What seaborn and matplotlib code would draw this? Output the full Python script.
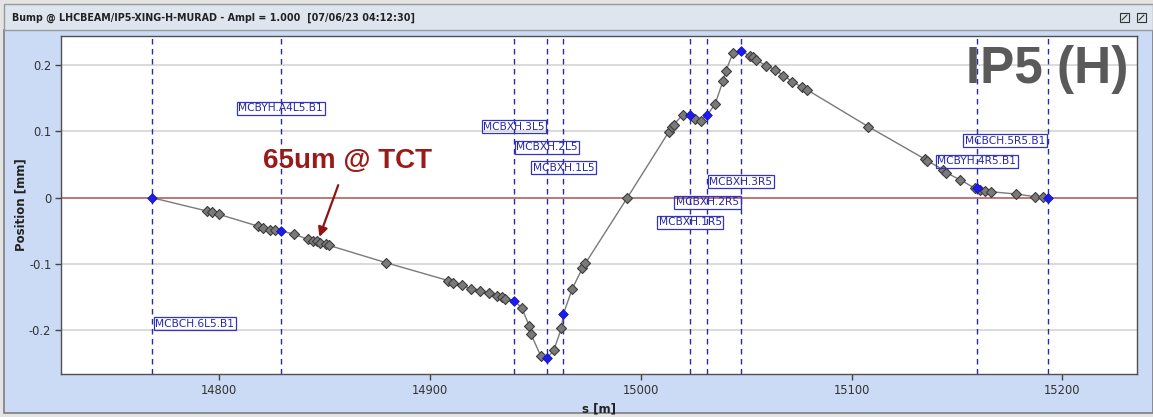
import numpy as np
import pandas as pd
import matplotlib
matplotlib.use("Agg")
import matplotlib.pyplot as plt
import seaborn as sns
from matplotlib.patches import Rectangle
from matplotlib.lines import Line2D

# ---------------------------------------------------------------- data
corrector_names = ["MCBCH.6L5.B1", "MCBYH.A4L5.B1", "MCBXH.3L5", "MCBXH.2L5",
                   "MCBXH.1L5", "MCBXH.1R5", "MCBXH.2R5", "MCBXH.3R5",
                   "MCBYH.4R5.B1", "MCBCH.5R5.B1"]
corrector_s = [14768.1, 14829.1, 14939.8, 14955.5, 14963.3,
               15023.5, 15031.6, 15047.4, 15159.4, 15193.3]
corrector_pos = [0.000, -0.050, -0.155, -0.242, -0.175,
                 0.124, 0.125, 0.221, 0.014, 0.000]

monitor_s = [14794.0, 14796.7, 14799.7, 14818.5, 14820.9, 14824.1, 14826.4,
             14835.6, 14842.2, 14844.6, 14846.2, 14847.8, 14850.6, 14852.2,
             14879.1, 14908.7, 14911.1, 14915.0, 14919.3, 14923.7, 14927.8,
             14931.9, 14934.0, 14935.6, 14943.5, 14947.0, 14947.9, 14952.6,
             14958.7, 14962.3, 14967.5, 14972.3, 14973.7, 14993.6, 15013.2,
             15014.9, 15015.5, 15019.9, 15025.6, 15028.4, 15035.2, 15039.0,
             15040.3, 15043.7, 15051.8, 15053.1, 15054.7, 15059.4, 15063.7,
             15067.6, 15071.9, 15076.3, 15078.7, 15108.0, 15134.9, 15135.7,
             15143.5, 15144.7, 15151.5, 15158.6, 15161.0, 15163.3, 15166.0,
             15178.0, 15187.1, 15190.7]
monitor_pos = [-0.020, -0.022, -0.025, -0.043, -0.045, -0.048, -0.049,
               -0.055, -0.063, -0.065, -0.066, -0.068, -0.070, -0.072,
               -0.098, -0.125, -0.128, -0.132, -0.137, -0.140, -0.144,
               -0.148, -0.149, -0.152, -0.166, -0.193, -0.206, -0.239,
               -0.230, -0.197, -0.137, -0.106, -0.099, 0.000, 0.099,
               0.107, 0.110, 0.125, 0.119, 0.116, 0.141, 0.176,
               0.191, 0.218, 0.214, 0.212, 0.208, 0.199, 0.193,
               0.184, 0.175, 0.167, 0.163, 0.107, 0.058, 0.056,
               0.042, 0.038, 0.027, 0.014, 0.011, 0.0095, 0.009,
               0.0056, 0.0015, 0.0015]

tct_s = 14846.8
tct_pos = -0.065
tct_label = "65um @ TCT"

x_ticks = [14800, 14900, 15000, 15100, 15200]
x_tick_labels = ["14800", "14900", "15000", "15100", "15200"]
y_ticks = [-0.2, -0.1, 0.0, 0.1, 0.2]
y_tick_labels = ["-0.2", "-0.1", "0", "0.1", "0.2"]

window_title = "Bump @ LHCBEAM/IP5-XING-H-MURAD - Ampl = 1.000  [07/06/23 04:12:30]"
plane_label = "IP5 (H)"

# ---------------------------------------------------------------- style
sns.set_theme(style="white")
plt.rcParams["font.family"] = ["DejaVu Sans"]
plt.rcParams["axes.unicode_minus"] = False

W, H = 1153, 417
fig = plt.figure(figsize=(W / 100, H / 100), dpi=100, facecolor="#e4e4e4")


def px_rect(x0, y0, x1, y1, **kw):
    """Rectangle given in pixel coordinates from the top-left corner."""
    return Rectangle((x0 / W, 1 - y1 / H), (x1 - x0) / W, (y1 - y0) / H,
                     transform=fig.transFigure, **kw)


# window chrome: panel and title bar
fig.patches.append(px_rect(4, 30, W, 413, facecolor="#cbdaf5",
                           edgecolor="#7d7d7d", lw=1.2, zorder=-2))
fig.patches.append(px_rect(4, 4, W, 30, facecolor="#dfe5ee",
                           edgecolor="#9a9a9a", lw=1.0, zorder=-2))
fig.text(12 / W, 1 - 18 / H, window_title, fontsize=7.7, fontweight="bold",
         fontstretch="condensed", color="#222222", ha="left", va="center")
# small window buttons at the top right
for x0 in (1120, 1137):
    fig.patches.append(px_rect(x0, 13, x0 + 9, 22, facecolor="none",
                               edgecolor="#333333", lw=0.8, zorder=-1))
    fig.lines.append(Line2D([(x0 + 2) / W, (x0 + 7) / W],
                            [1 - 20 / H, 1 - 15 / H], transform=fig.transFigure,
                            color="#333333", lw=0.8, zorder=-1))

# ---------------------------------------------------------------- axes
ax = fig.add_axes([61 / W, 1 - 374 / H, (1137 - 61) / W, (374 - 36) / H])
ax.set_zorder(1)
ax.set_facecolor("white")

for yv in y_ticks:
    if yv != 0:
        ax.axhline(yv, color="#d4d4d4", lw=1.2, zorder=1)
ax.axhline(0, color="#b46060", lw=1.2, zorder=2)

for s in corrector_s:
    ax.axvline(s, color="#2a2aa8", lw=1.0, ls=(0, (4, 3.2)), zorder=2)

trace = pd.DataFrame({
    "s": list(monitor_s) + list(corrector_s),
    "pos": list(monitor_pos) + list(corrector_pos),
}).sort_values("s")
sns.lineplot(data=trace, x="s", y="pos", estimator=None, sort=True,
             color="#7a7a7a", lw=1.0, ax=ax, zorder=3)
sns.scatterplot(x=monitor_s, y=monitor_pos, marker="D", s=26,
                color="#7a7a7a", edgecolor="#3c3c3c", linewidth=0.8,
                ax=ax, zorder=4)
sns.scatterplot(x=corrector_s, y=corrector_pos, marker="D", s=24,
                color="#1c1cf0", edgecolor="#1414c0", linewidth=0.6,
                ax=ax, zorder=5)

# corrector name tags
tag_layout = {
    "MCBCH.6L5.B1": (-0.190, "left"),
    "MCBYH.A4L5.B1": (0.135, "center"),
    "MCBXH.3L5": (0.107, "center"),
    "MCBXH.2L5": (0.076, "center"),
    "MCBXH.1L5": (0.045, "center"),
    "MCBXH.1R5": (-0.037, "center"),
    "MCBXH.2R5": (-0.007, "center"),
    "MCBXH.3R5": (0.024, "center"),
    "MCBYH.4R5.B1": (0.055, "center"),
    "MCBCH.5R5.B1": (0.086, "right"),
}
for name, s in zip(corrector_names, corrector_s):
    ty, ha = tag_layout[name]
    dx = {"left": 2.2, "center": 0, "right": -2.2}[ha]
    ax.annotate(name, (s, ty), xytext=(dx, 0), textcoords="offset points",
                ha=ha, va="center", fontsize=7.7, color="#2828a6", zorder=6,
                bbox=dict(boxstyle="square,pad=0.15", fc="none",
                          ec="#3434c4", lw=0.9))

# TCT marker annotation
ax.annotate(tct_label, xy=(tct_s, tct_pos), xytext=(14860.6, 0.0553),
            ha="center", va="center", fontsize=20, fontweight="bold",
            family="Liberation Sans", color="#9a1a1a", zorder=7,
            arrowprops=dict(arrowstyle="-|>", color="#8e1414", lw=1.6,
                            mutation_scale=14, shrinkA=6, shrinkB=3))

ax.text(0.9916, 0.86, plane_label, transform=ax.transAxes, ha="right",
        va="baseline", fontsize=37, fontweight="bold",
        family="Liberation Sans", color="#5a5a5a", zorder=7)

ax.set_xlim(14724.9, 15235.4)
ax.set_ylim(-0.2658, 0.2438)
ax.set_xticks(x_ticks)
ax.set_xticklabels(x_tick_labels)
ax.set_yticks(y_ticks)
ax.set_yticklabels(y_tick_labels)
ax.tick_params(axis="both", which="both", direction="out", length=4,
               width=1, color="#444444", labelsize=8.3, labelcolor="#333333",
               pad=3, bottom=True, left=True)
for sp in ax.spines.values():
    sp.set_color("#505050")
    sp.set_linewidth(1.0)

ax.set_xlabel("s [m]", fontsize=8.5, fontweight="bold", color="#222222")
ax.set_ylabel("Position [mm]", fontsize=8.5, fontweight="bold", color="#222222")
ax.xaxis.set_label_coords(0.5, -0.083)
ax.yaxis.set_label_coords(-0.0316, 0.5)

fig.savefig("out.png", dpi=100, facecolor=fig.get_facecolor())
